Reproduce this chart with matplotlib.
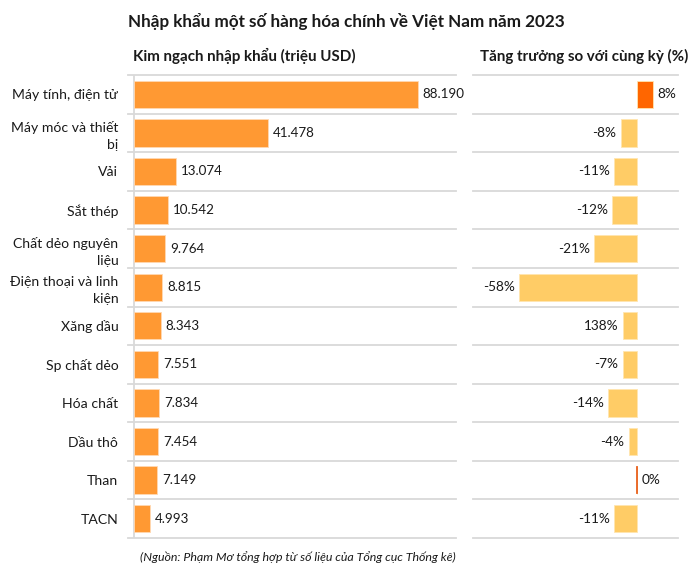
import matplotlib
matplotlib.use("Agg")
import matplotlib.pyplot as plt

plt.rcParams['font.family'] = ['Lato', 'DejaVu Sans']

categories = ["Máy tính, điện tử", "Máy móc và thiết\nbị", "Vải", "Sắt thép",
              "Chất dẻo nguyên\nliệu", "Điện thoại và linh\nkiện", "Xăng dầu",
              "Sp chất dẻo", "Hóa chất", "Dầu thô", "Than", "TACN"]
import_values = [88190, 41478, 13074, 10542, 9764, 8815, 8343, 7551, 7834, 7454, 7149, 4993]
import_labels = ["88.190", "41.478", "13.074", "10.542", "9.764", "8.815", "8.343",
                 "7.551", "7.834", "7.454", "7.149", "4.993"]
growth_bars = [8, -8, -11, -12, -21, -58, -7, -7, -14, -4, 0, -11]
growth_labels = ["8%", "-8%", "-11%", "-12%", "-21%", "-58%", "138%", "-7%", "-14%",
                 "-4%", "0%", "-11%"]

W, H = 700, 586
fig = plt.figure(figsize=(7, 5.86), dpi=100)

grid_color = "#D9D9D9"
text_color = "#1a1a1a"

# Left panel
axL = fig.add_axes([128 / W, 1 - 538 / H, 328 / W, 463 / H])
y = list(range(len(categories)))
axL.barh(y, import_values, height=0.71, color="#FF9933", edgecolor="#FFD9B3", linewidth=0.6)
axL.set_xlim(-1860, 100000)
axL.set_ylim(len(categories) - 0.5, -0.5)
for b in [i - 0.5 for i in range(len(categories) + 1)]:
    axL.axhline(b, color=grid_color, linewidth=1.3, clip_on=False, zorder=0)
axL.axvline(0, color=grid_color, linewidth=1.3, zorder=0)
for yi, v, lab in zip(y, import_values, import_labels):
    axL.text(v + 1500, yi, lab, va="center", ha="left", fontsize=9.6, color=text_color)
axL.set_yticks(y)
axL.set_yticklabels(categories, fontsize=10.1, color=text_color, multialignment="right",
                    linespacing=1.45)
axL.tick_params(axis="y", length=0, pad=7)
axL.set_xticks([])
for s in axL.spines.values():
    s.set_visible(False)

# Right panel
axR = fig.add_axes([473 / W, 1 - 538 / H, 205 / W, 463 / H])
colors = []
for i, v in enumerate(growth_bars):
    colors.append("#FF6600" if v > 0 else "#FFCC66")
axR.barh(y, growth_bars, height=0.71, color=colors, edgecolor="#FFE5B0", linewidth=0.6)
axR.set_xlim(-80.7, 20.3)
axR.set_ylim(len(categories) - 0.5, -0.5)
# zero-value bar drawn as thin line
for yi, v in zip(y, growth_bars):
    if v == 0:
        axR.plot([0, 0], [yi - 0.33, yi + 0.33], color="#E8601C", linewidth=1.3)
for b in [i - 0.5 for i in range(len(categories) + 1)]:
    axR.axhline(b, color=grid_color, linewidth=1.3, clip_on=False, zorder=0)
for yi, v, lab in zip(y, growth_bars, growth_labels):
    if v < 0:
        axR.text(v - 2.2, yi, lab, va="center", ha="right", fontsize=9.8, color=text_color)
    else:
        axR.text(v + 2.2, yi, lab, va="center", ha="left", fontsize=9.8, color=text_color)
axR.set_xticks([])
axR.set_yticks([])
for s in axR.spines.values():
    s.set_visible(False)

# Titles
fig.text(346 / W, 1 - 21 / H, "Nhập khẩu một số hàng hóa chính về Việt Nam năm 2023",
         ha="center", va="center", fontsize=12.3, fontweight="bold", color=text_color)
fig.text(133 / W, 1 - 56 / H, "Kim ngạch nhập khẩu (triệu USD)",
         ha="left", va="center", fontsize=10.9, fontweight="bold", color=text_color)
fig.text(688 / W, 1 - 56 / H, "Tăng trưởng so với cùng kỳ (%)",
         ha="right", va="center", fontsize=10.9, fontweight="bold", color=text_color)
fig.text(456 / W, 1 - 557 / H, "(Nguồn: Phạm Mơ tổng hợp từ số liệu của Tổng cục Thống kê)",
         ha="right", va="center", fontsize=8.9, style="italic", color=text_color)

fig.savefig("out.png", dpi=100)
